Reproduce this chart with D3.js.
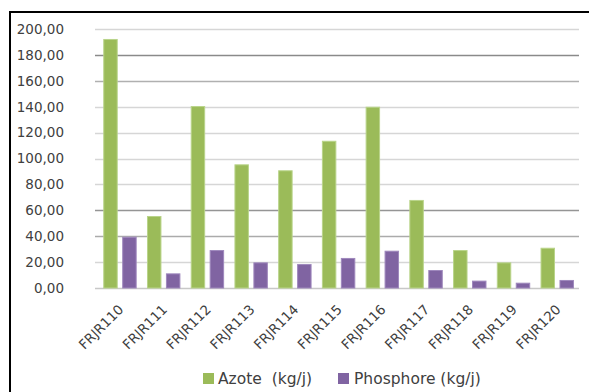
<!DOCTYPE html>
<html><head><meta charset="utf-8">
<script src="https://cdn.jsdelivr.net/npm/d3@7"></script>
<style>
html,body{margin:0;padding:0;background:#fff;}
svg{display:block;}
text{font-family:"DejaVu Sans",sans-serif;fill:#404040;}
</style></head>
<body><svg id="chart" width="589" height="392"></svg>
<script>
const categories = ["FRJR110","FRJR111","FRJR112","FRJR113","FRJR114","FRJR115","FRJR116","FRJR117","FRJR118","FRJR119","FRJR120"];
const seriesNames = ["Azote  (kg/j)","Phosphore (kg/j)"];
const azote = [192.3,55.6,140.5,95.5,90.9,113.7,140.0,68.0,29.3,19.8,31.1];
const phosphore = [39.6,11.3,29.3,19.8,18.5,23.2,28.8,13.9,5.7,4.1,6.2];
const yTicks = [0,20,40,60,80,100,120,140,160,180,200];
const colors = ["#9bbb59","#8064a2"];
const strokes = ["#b9d48a","#9f88bd"];
const gridColors = {0:"#c8c8c8",20:"#d6d6d6",40:"#ababab",60:"#959595",80:"#d6d6d6",100:"#d6d6d6",120:"#d6d6d6",140:"#d6d6d6",160:"#b0b0b0",180:"#8a8a8a",200:"#d6d6d6"};

const svg = d3.select("#chart");
// frame
svg.append("rect").attr("x",10).attr("y",12).attr("width",600).attr("height",400)
  .attr("fill","none").attr("stroke","#000").attr("stroke-width",2);

const y = d3.scaleLinear().domain([0,200]).range([288,29]);
const gridX0 = 95, gridX1 = 579;
const x0 = d3.scaleBand().domain(categories).range([98.1,579.1]).paddingInner(0.236).paddingOuter(0.118);
const x1 = d3.scaleBand().domain([0,1]).range([0,x0.bandwidth()]).paddingInner(0.237);

// gridlines
svg.append("g").selectAll("line").data(yTicks).join("line")
  .attr("x1",gridX0).attr("x2",gridX1)
  .attr("y1",d=>Math.round(y(d))+0.5).attr("y2",d=>Math.round(y(d))+0.5)
  .attr("stroke",d=>gridColors[d]).attr("stroke-width",1.3);

// y axis labels
const yAxis = d3.axisLeft(y).tickValues(yTicks).tickSize(0).tickPadding(0)
  .tickFormat(d=>d3.format(".2f")(d).replace(".",","));
const ga = svg.append("g").attr("transform","translate(64,0)").call(yAxis);
ga.select(".domain").remove();
ga.selectAll("text").attr("font-size","13.5px").attr("fill","#404040").attr("font-family","DejaVu Sans");

// bars
const series = [azote, phosphore];
series.forEach((vals,si)=>{
  svg.append("g").selectAll("rect").data(vals).join("rect")
    .attr("x",(d,i)=>x0(categories[i])+x1(si)+0.5)
    .attr("width",x1.bandwidth()-1)
    .attr("y",d=>y(d)+0.5)
    .attr("height",d=>y(0)-y(d)-0.5)
    .attr("fill",colors[si]).attr("stroke",strokes[si]).attr("stroke-width",1);
});

// x labels
const xAxis = d3.axisBottom(x0).tickSize(0).tickPadding(0);
const gx = svg.append("g").attr("transform","translate(0,307)").call(xAxis);
gx.select(".domain").remove();
gx.selectAll("text").attr("font-size","13.5px").attr("fill","#404040").attr("font-family","DejaVu Sans")
  .attr("text-anchor","end").attr("dy","0.35em").attr("y",0)
  .attr("transform","translate(1,0) rotate(-45)");

// legend
const legendItems = [{x:203,tx:218},{x:338,tx:354}];
const lg = svg.append("g");
legendItems.forEach((it,i)=>{
  lg.append("rect").attr("x",it.x).attr("y",373).attr("width",11).attr("height",11).attr("fill",colors[i]);
  lg.append("text").attr("x",it.tx).attr("y",384).attr("font-size","15.5px").attr("fill","#404040")
    .attr("xml:space","preserve").style("white-space","pre").text(seriesNames[i]);
});
</script></body></html>
